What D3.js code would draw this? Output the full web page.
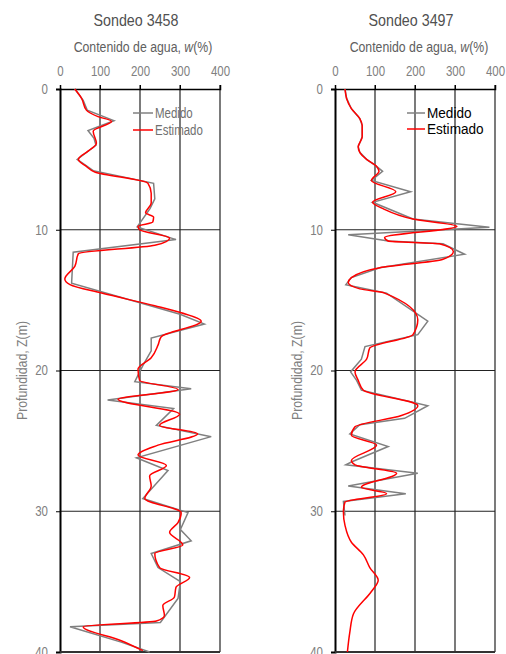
<!DOCTYPE html>
<html>
<head>
<meta charset="utf-8">
<script src="https://cdn.jsdelivr.net/npm/d3@7"></script>
<style>
  body { margin: 0; background: #fff; }
  text { font-family: "Liberation Sans", Arial, sans-serif; }
</style>
</head>
<body>
<div id="chart"></div>
<script>
// data: [profundidad (m), contenido de agua w (%)]
var titles = ["Sondeo 3458", "Sondeo 3497"];
var xTicks = [0, 100, 200, 300, 400];
var yTicks = [0, 10, 20, 30, 40];
var legendNames = ["Medido", "Estimado"];

var medido3458 = [[0,37],[0.8,58],[1.5,68],[2.25,135],[2.95,70],[3.5,85],[4.0,90],[5.0,43],[5.8,83],
  [6.7,234],[7.8,237],[8.5,225],[9.8,193],[10.7,290],[11.6,33],[13.8,29],[16.0,300],[16.7,361],
  [17.7,228],[18.6,228],[19.65,207],[20.8,187],[21.3,328],[22.1,119],[22.7,284],[23.9,241],[24.7,378],
  [26.2,191],[27.1,270],[29.1,207],[30.1,320],[31.3,301],[32.1,328],[33.0,228],[34.0,245],[35.0,301],
  [36.2,295],[37.9,251],[38.2,25],[39.3,153],[40,224]];
var estimado3458 = [[0,37],[0.66,54],[1.5,66],[1.96,95],[2.3,129],[3.0,83],[3.85,91],[4.4,71],[5.0,46],
  [5.5,66],[5.9,87],[6.7,220],[7.4,228],[8.1,228],[8.8,214],[9.1,234],[9.45,232],[9.76,195],[10.0,199],
  [10.6,274],[11.1,237],[11.7,46],[12.6,37],[13.5,12],[13.9,25],[14.5,104],[15.4,237],[15.9,303],
  [16.5,353],[17.6,253],[18.2,245],[19.1,228],[19.9,195],[20.7,199],[21.35,295],[22.05,145],[23.1,299],
  [23.9,249],[24.5,344],[25.3,245],[26.0,195],[26.75,266],[27.5,224],[28.2,228],[29.1,212],[30.1,303],
  [30.8,295],[31.5,274],[32.4,307],[33.0,237],[34.0,249],[34.7,324],[35.4,290],[36.1,286],[36.7,257],
  [37.4,261],[37.8,241],[38.2,58],[39.2,153],[39.9,207]];

var medido3497 = [[0,25],[0.67,29],[1.4,41],[2.1,62],[2.6,68],[3.4,68],[4.1,58],[4.5,62],[5.0,79],
  [5.5,104],[5.85,119],[6.5,91],[7.3,189],[8.05,94],[9.24,195],[9.83,386],[10.36,33],[10.8,133],
  [11.0,270],[11.74,324],[12.7,112],[13.4,41],[13.9,27],[14.5,129],[16.5,232],[17.45,207],[18.3,75],
  [19.2,66],[20.1,39],[20.7,54],[21.4,66],[22.5,232],[23.4,174],[23.85,62],[24.5,37],[25.4,133],
  [26.5,41],[26.7,27],[27.3,207],[28.2,33],[28.75,177],[29.3,21],[30.3,25]];
var estimado3497 = [[0,25],[0.67,29],[1.4,41],[2.1,62],[2.6,68],[3.4,68],[4.1,58],[4.5,62],[5.0,79],
  [5.5,104],[5.85,110],[6.5,91],[7.3,152],[8.05,94],[8.5,120],[9.24,195],[9.76,305],[10.55,124],
  [10.8,133],[11.0,261],[11.55,296],[12.1,270],[12.7,112],[13.4,41],[13.75,33],[14.2,62],[14.5,124],
  [16.4,207],[17.45,195],[18.4,87],[19.2,79],[20.1,50],[20.7,58],[21.4,71],[22.5,207],[23.2,166],
  [24.0,50],[24.6,41],[25.3,104],[26.4,41],[26.7,50],[27.3,154],[28.3,66],[28.75,129],[29.35,25],
  [30.05,21],[31.0,25],[32.2,41],[33.1,71],[34.0,87],[34.9,108],[35.7,91],[37.3,46],[38.6,37],[40,31]];

const width = 506, height = 654;
const svg = d3.select("#chart").append("svg")
  .attr("width", width)
  .attr("height", height);

// no narrow font installed, so squeeze plain texts horizontally
function narrow(sel, f) {
  sel.each(function () {
    const len = this.getComputedTextLength();
    d3.select(this).attr("textLength", len * f).attr("lengthAdjust", "spacingAndGlyphs");
  });
}

function drawPanel(p) {
  const x = d3.scaleLinear().domain([0, 400]).range([p.left, p.left + 160]);
  const y = d3.scaleLinear().domain([0, 40]).range([89, 652]);
  const g = svg.append("g");

  // titles
  g.append("text").attr("x", p.titleX).attr("y", 26).attr("text-anchor", "middle")
    .style("font-size", "17px").style("fill", "#505050").text(p.title)
    .call(narrow, 0.84);
  // axis title has an italic tspan, so scale the whole text instead
  g.append("text")
    .attr("transform", `translate(${p.axisTitleX},52) scale(0.82,1)`)
    .attr("text-anchor", "middle")
    .style("font-size", "15px").style("fill", "#606060")
    .html("Contenido de agua, <tspan font-style='italic'>w</tspan>(%)");

  // gridlines
  g.selectAll(".vgrid").data(xTicks.slice(1)).join("line")
    .attr("x1", d => x(d)).attr("x2", d => x(d))
    .attr("y1", y(0) - 4).attr("y2", y(40))
    .attr("stroke", "#222").attr("stroke-width", 1.2);
  g.selectAll(".hgrid").data(yTicks.slice(1, 4)).join("line")
    .attr("x1", x(0)).attr("x2", x(400))
    .attr("y1", d => y(d)).attr("y2", d => y(d))
    .attr("stroke", "#222").attr("stroke-width", 1.2);

  // top axis
  const top = g.append("g").attr("transform", `translate(0,${y(0)})`)
    .call(d3.axisTop(x).tickValues(xTicks).tickSize(4).tickPadding(9));
  top.select(".domain").attr("stroke", "#000").attr("stroke-width", 1.5);
  top.selectAll("text").style("font-size", "14px").style("fill", "#808080")
    .style("font-family", "'Liberation Sans', Arial, sans-serif").call(narrow, 0.82);

  // left axis
  const left = g.append("g").attr("transform", `translate(${x(0)},0)`)
    .call(d3.axisLeft(y).tickValues(yTicks).tickSize(4).tickPadding(8));
  left.select(".domain").attr("stroke", "#000").attr("stroke-width", 2);
  left.selectAll("text").style("font-size", "14px").style("fill", "#808080")
    .style("font-family", "'Liberation Sans', Arial, sans-serif").call(narrow, 0.82);

  // bottom line
  g.append("line").attr("x1", x(0)).attr("x2", x(400))
    .attr("y1", y(40)).attr("y2", y(40))
    .attr("stroke", "#333").attr("stroke-width", 2);

  g.append("text")
    .attr("transform", `translate(${p.yTitleX},${(y(0) + y(40)) / 2}) rotate(-90)`)
    .attr("text-anchor", "middle")
    .style("font-size", "15px").style("fill", "#808080")
    .text("Profundidad, Z(m)")
    .call(narrow, 0.82);

  // series
  const lineLin = d3.line().x(d => x(d[1])).y(d => y(d[0]));
  const lineSmooth = d3.line().x(d => x(d[1])).y(d => y(d[0])).curve(d3.curveMonotoneY);
  g.append("path").datum(p.medido).attr("fill", "none")
    .attr("stroke", "#808080").attr("stroke-width", 1.5).attr("d", lineLin);
  g.append("path").datum(p.estimado).attr("fill", "none")
    .attr("stroke", "#ff0000").attr("stroke-width", 1.5).attr("d", lineSmooth);

  // legend
  const colors = ["#808080", "#ff0000"];
  legendNames.forEach(function (name, i) {
    const ly = p.legY[i];
    g.append("line").attr("x1", p.legX).attr("x2", p.legX + p.legLen)
      .attr("y1", ly).attr("y2", ly)
      .attr("stroke", colors[i]).attr("stroke-width", 1.5);
    g.append("text").attr("x", p.legX + p.legLen + 2).attr("y", ly + 5)
      .style("font-size", "14px").style("fill", p.legColor)
      .text(name)
      .call(narrow, p.legSqueeze);
  });
}

drawPanel({
  left: 60, title: titles[0], titleX: 136, axisTitleX: 143, yTitleX: 27,
  medido: medido3458, estimado: estimado3458,
  legX: 133, legLen: 20, legY: [113, 130], legColor: "#707070", legSqueeze: 0.82
});
drawPanel({
  left: 335, title: titles[1], titleX: 411, axisTitleX: 419, yTitleX: 302,
  medido: medido3497, estimado: estimado3497,
  legX: 407, legLen: 18, legY: [113, 129], legColor: "#000", legSqueeze: 0.97
});
</script>
</body>
</html>
